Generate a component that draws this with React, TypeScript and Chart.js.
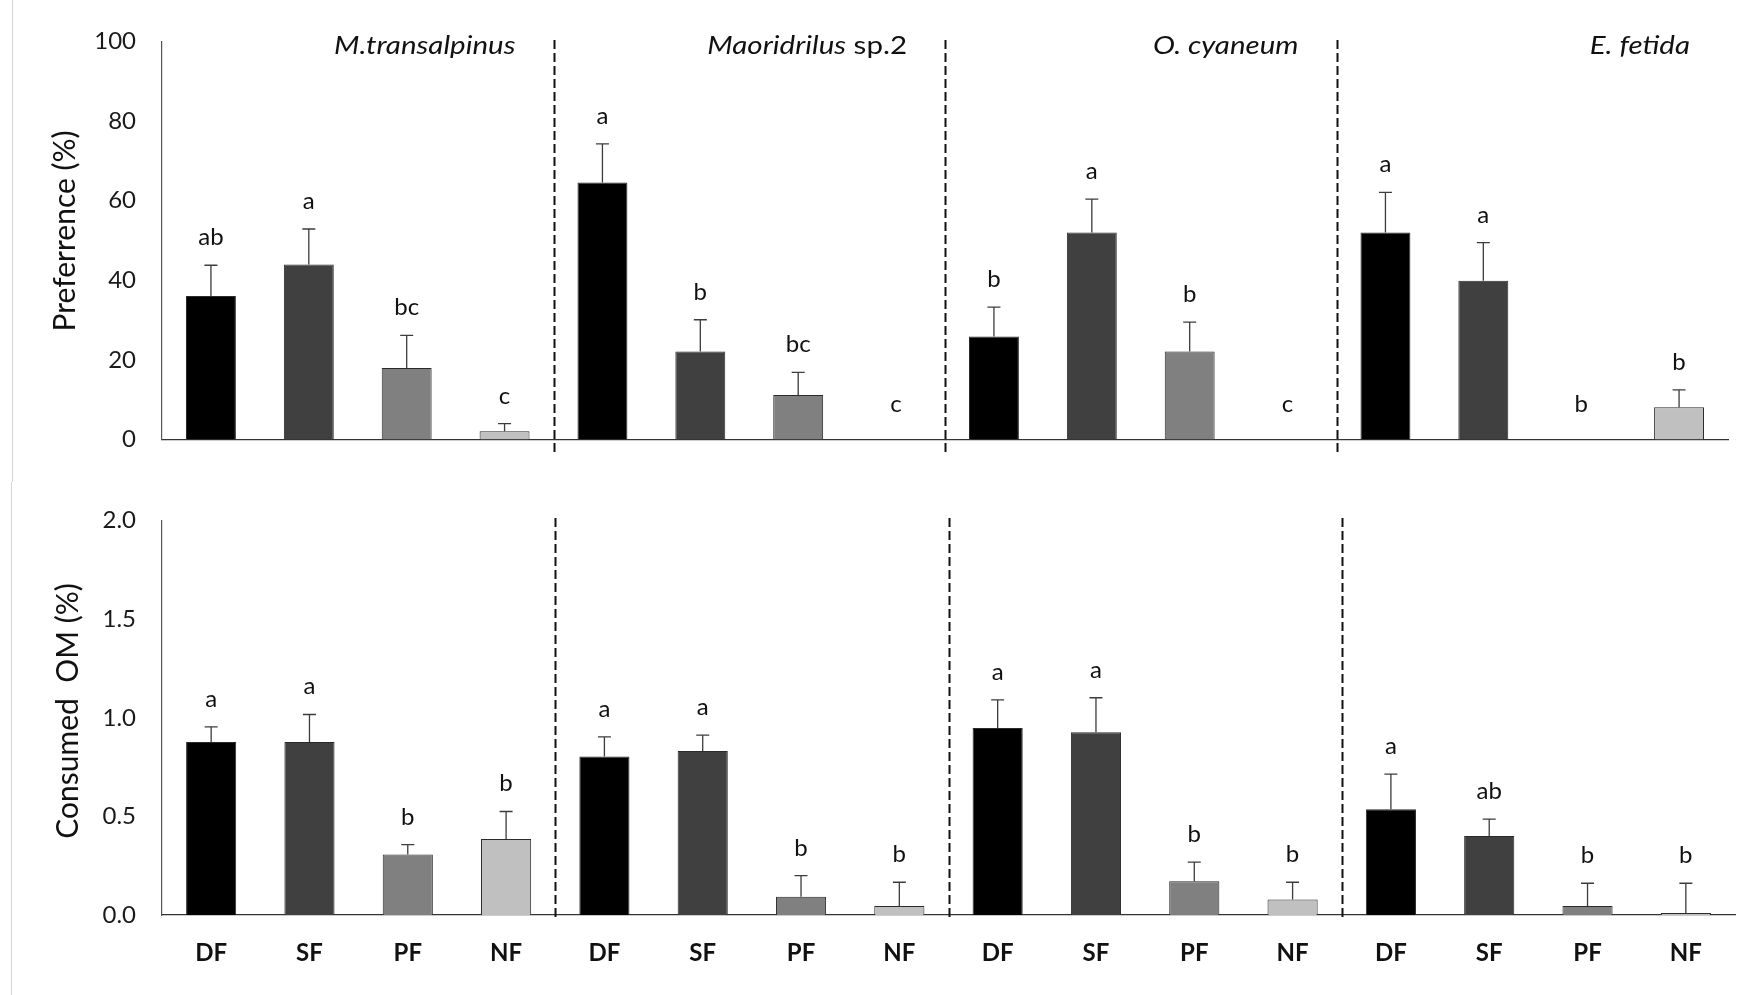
import React, { useEffect, useRef } from 'react';
import { Chart, registerables } from 'chart.js';

Chart.register(...registerables);

const FONT = 'Lato, "Open Sans", "DejaVu Sans", sans-serif';

// ---- data ----
const treatments = ['DF', 'SF', 'PF', 'NF'];
const speciesItalic = ['M.transalpinus', 'Maoridrilus', 'O. cyaneum', 'E. fetida'];
const speciesSuffix = ['', ' sp.2', '', ''];
const barColors = ['#000000', '#404040', '#808080', '#c0c0c0'];

const prefMeans = [36.1, 44.0, 18.0, 2.1, 64.6, 22.1, 11.2, 0, 25.9, 52.0, 22.1, 0, 52.0, 39.9, 0, 8.1];
const prefErrs = [7.7, 8.9, 8.2, 1.9, 9.7, 8.0, 5.7, 0, 7.4, 8.4, 7.4, 0, 10.1, 9.6, 0, 4.4];
const prefLetters = ['ab', 'a', 'bc', 'c', 'a', 'b', 'bc', 'c', 'b', 'a', 'b', 'c', 'a', 'a', 'b', 'b'];
const prefTicks = [0, 20, 40, 60, 80, 100];

const omMeans = [0.877, 0.877, 0.307, 0.385, 0.804, 0.832, 0.093, 0.046, 0.948, 0.927, 0.171, 0.078, 0.537, 0.401, 0.046, 0.01];
const omErrs = [0.077, 0.14, 0.05, 0.14, 0.10, 0.08, 0.107, 0.12, 0.143, 0.175, 0.097, 0.088, 0.178, 0.085, 0.115, 0.151];
const omLetters = ['a', 'a', 'b', 'b', 'a', 'a', 'b', 'b', 'a', 'a', 'b', 'b', 'a', 'ab', 'b', 'b'];
const omTicks = [0, 0.5, 1.0, 1.5, 2.0];

const labels: string[] = [];
speciesItalic.forEach(() => treatments.forEach((t) => labels.push(t)));
const colors = labels.map((_, i) => barColors[i % treatments.length]);

type OverlayCfg = {
  means: number[];
  errs: number[];
  letters: string[];
  yTitle: string;
  yTitleX: number;
  yTitleY: number;
  showSpecies: boolean;
  dashTop: number;
  dashBottom: number;
};

function overlayPlugin(cfg: OverlayCfg) {
  return {
    id: 'overlay',
    afterDatasetsDraw(chart: any) {
      const ctx = chart.ctx as CanvasRenderingContext2D;
      const xs = chart.scales.x;
      const ys = chart.scales.y;
      ctx.save();
      // error bars
      ctx.strokeStyle = '#3c3c3c';
      ctx.lineWidth = 1.3;
      cfg.means.forEach((m, i) => {
        const e = cfg.errs[i];
        if (!e) return;
        const cx = xs.getPixelForValue(i);
        const y0 = ys.getPixelForValue(m);
        const y1 = ys.getPixelForValue(m + e);
        ctx.beginPath();
        ctx.moveTo(cx, y0);
        ctx.lineTo(cx, y1);
        ctx.moveTo(cx - 6.5, y1);
        ctx.lineTo(cx + 6.5, y1);
        ctx.stroke();
      });
      // significance letters
      ctx.fillStyle = '#111111';
      ctx.font = `24px ${FONT}`;
      ctx.textAlign = 'center';
      ctx.textBaseline = 'alphabetic';
      cfg.letters.forEach((l, i) => {
        const top = cfg.means[i] + cfg.errs[i];
        const gap = cfg.means[i] === 0 ? 28 : 20;
        ctx.fillText(l, xs.getPixelForValue(i), ys.getPixelForValue(top) - gap);
      });
      // dashed separators
      ctx.setLineDash([9, 4]);
      ctx.lineWidth = 2;
      ctx.strokeStyle = '#111111';
      const n = treatments.length;
      for (let k = 1; k < speciesItalic.length; k++) {
        const px = Math.round(xs.getPixelForValue(k * n - 0.5)) + 0.5;
        ctx.beginPath();
        ctx.moveTo(px, cfg.dashTop);
        ctx.lineTo(px, cfg.dashBottom);
        ctx.stroke();
      }
      ctx.setLineDash([]);
      // species titles
      if (cfg.showSpecies) {
        ctx.textAlign = 'right';
        ctx.textBaseline = 'alphabetic';
        for (let k = 0; k < speciesItalic.length; k++) {
          const right = xs.getPixelForValue((k + 1) * n - 0.5) - 38;
          ctx.save();
          ctx.translate(right, 54);
          ctx.scale(1.18, 1);
          ctx.font = `25px ${FONT}`;
          const sw = speciesSuffix[k] ? ctx.measureText(speciesSuffix[k]).width : 0;
          if (speciesSuffix[k]) ctx.fillText(speciesSuffix[k], 0, 0);
          ctx.font = `italic 25px ${FONT}`;
          ctx.fillText(speciesItalic[k], -sw, 0);
          ctx.restore();
        }
      }
      // y-axis title
      ctx.translate(cfg.yTitleX, cfg.yTitleY);
      ctx.rotate(-Math.PI / 2);
      ctx.font = `30px ${FONT}`;
      ctx.textAlign = 'center';
      ctx.textBaseline = 'middle';
      ctx.fillStyle = '#111111';
      ctx.fillText(cfg.yTitle, 0, 0);
      ctx.restore();
    },
  };
}

function Panel(props: {
  width: number;
  height: number;
  top: number;
  means: number[];
  errs: number[];
  letters: string[];
  ticks: number[];
  decimals: number;
  yTitle: string;
  yTitleX: number;
  yTitleY: number;
  showX: boolean;
  showSpecies: boolean;
  padding: { top: number; right: number; bottom: number; left: number };
  xHeight: number;
  dashTop: number;
  dashBottom: number;
}) {
  const ref = useRef<HTMLCanvasElement | null>(null);
  useEffect(() => {
    if (!ref.current) return;
    const tmin = props.ticks[0];
    const tmax = props.ticks[props.ticks.length - 1];
    const chart = new Chart(ref.current, {
      type: 'bar',
      data: {
        labels,
        datasets: [
          {
            data: props.means,
            backgroundColor: colors,
            borderColor: '#2a2a2a',
            borderWidth: 1,
            barPercentage: 0.51,
            categoryPercentage: 1,
          },
        ],
      },
      options: {
        responsive: false,
        animation: false,
        layout: { padding: props.padding },
        plugins: { legend: { display: false }, tooltip: { enabled: false } },
        scales: {
          x: {
            grid: { display: false, drawTicks: false },
            border: { display: true, color: '#333333', width: 1.3 },
            ticks: {
              display: props.showX,
              color: '#111111',
              font: { family: FONT, size: 24, weight: 'bold' },
              padding: 24,
              maxRotation: 0,
              autoSkip: false,
            },
            afterFit: (s: any) => {
              s.height = props.xHeight;
            },
          },
          y: {
            min: tmin,
            max: tmax,
            afterBuildTicks: (s: any) => {
              s.ticks = props.ticks.map((v) => ({ value: v }));
            },
            ticks: {
              color: '#1a1a1a',
              font: { family: FONT, size: 24 },
              padding: 26,
              callback: (v: any) => Number(v).toFixed(props.decimals),
            },
            grid: { display: false, drawTicks: false },
            border: { display: true, color: '#555555', width: 1.2 },
            afterFit: (s: any) => {
              s.width = 162;
            },
          },
        },
      },
      plugins: [
        overlayPlugin({
          means: props.means,
          errs: props.errs,
          letters: props.letters,
          yTitle: props.yTitle,
          yTitleX: props.yTitleX,
          yTitleY: props.yTitleY,
          showSpecies: props.showSpecies,
          dashTop: props.dashTop,
          dashBottom: props.dashBottom,
        }),
      ],
    } as any);
    return () => chart.destroy();
  }, []);
  return (
    <canvas
      ref={ref}
      width={props.width}
      height={props.height}
      style={{ position: 'absolute', left: 0, top: props.top, display: 'block' }}
    />
  );
}

export default function App() {
  return (
    <div style={{ position: 'absolute', left: 0, top: 0, width: 1758, height: 995, background: '#ffffff', overflow: 'hidden' }}>
      <div style={{ position: 'absolute', left: 12, top: 0, width: 1, height: 482, background: '#d4d4d4' }} />
      <div style={{ position: 'absolute', left: 11, top: 482, width: 1, height: 513, background: '#d4d4d4' }} />
      <Panel
        width={1758}
        height={480}
        top={0}
        means={prefMeans}
        errs={prefErrs}
        letters={prefLetters}
        ticks={prefTicks}
        decimals={0}
        yTitle="Preferrence (%)"
        yTitleX={65}
        yTitleY={231}
        showX={false}
        showSpecies={true}
        padding={{ top: 41.5, right: 30, bottom: 35, left: 0 }}
        xHeight={0}
        dashTop={40}
        dashBottom={453}
      />
      <Panel
        width={1758}
        height={515}
        top={480}
        means={omMeans}
        errs={omErrs}
        letters={omLetters}
        ticks={omTicks}
        decimals={1}
        yTitle="Consumed  OM (%)"
        yTitleX={68}
        yTitleY={231}
        showX={true}
        showSpecies={false}
        padding={{ top: 40.7, right: 23, bottom: 0, left: 0 }}
        xHeight={80}
        dashTop={38}
        dashBottom={438}
      />
    </div>
  );
}
